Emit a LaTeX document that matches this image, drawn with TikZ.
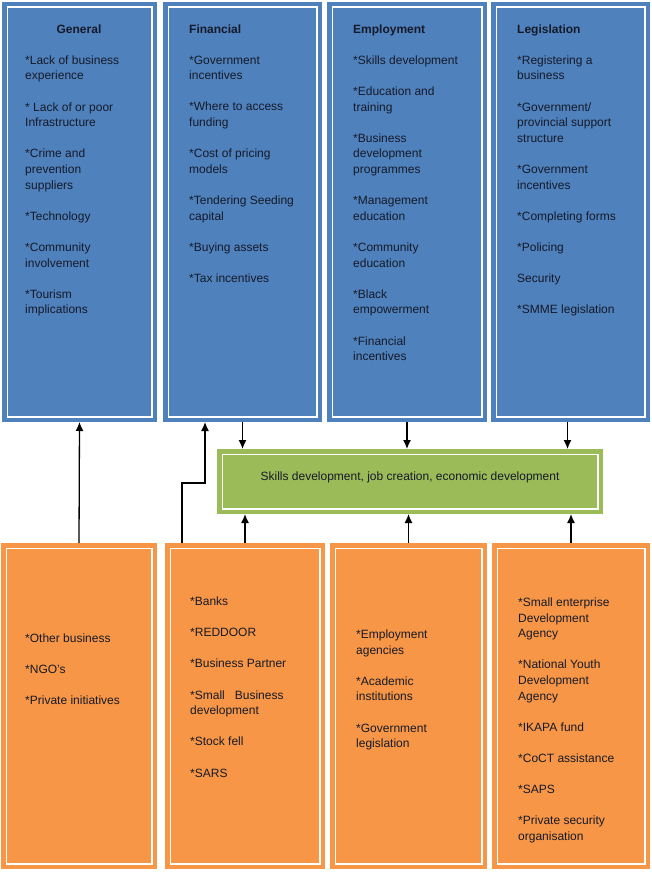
\documentclass[tikz,border=0pt]{standalone}
\usepackage{fontspec}
\setmainfont{Liberation Sans}
\usepackage{tikz}
\usetikzlibrary{positioning,arrows.meta}
\definecolor{bfill}{RGB}{79,129,189}
\definecolor{ofill}{RGB}{247,150,70}
\definecolor{gfill}{RGB}{155,187,89}
\definecolor{txtc}{RGB}{22,26,40}

\begin{document}
\begin{tikzpicture}[x=1pt,y=-1pt,
  panel/.style={draw=#1,fill=#1,double=white,double distance=1.8pt,line width=4.5pt,outer sep=5.4pt,inner sep=0pt},
  bluebox/.style={panel=bfill,minimum height=409.2pt},
  orangebox/.style={panel=ofill,minimum height=315.2pt},
  greenbox/.style={panel=gfill,minimum height=54.2pt,font=\fontsize{12}{15.6}\selectfont,text=txtc},
  head/.style={anchor=north,inner sep=0pt,font=\bfseries\fontsize{12}{15.6}\selectfont,text=txtc},
  items/.style={anchor=north west,inner sep=0pt,align=left,font=\fontsize{12}{15.6}\selectfont,text=txtc},
  link/.style={->,line width=1.3pt},
  >={Latex[length=9pt,width=8pt]}]
\useasboundingbox (0,0) rectangle (652,880);
\node[bluebox,minimum width=144.2pt] (b1) at (79.5,212) {};
\node[bluebox,minimum width=148.2pt] (b2) at (242.5,212) {};
\node[bluebox,minimum width=149.2pt] (b3) at (407,212) {};
\node[bluebox,minimum width=148.2pt] (b4) at (570.5,212) {};
\node[greenbox,minimum width=375.2pt] (gr) at (410,481.5) {\raisebox{1.5pt}[0pt][0pt]{Skills development, job creation, economic development}};
\node[orangebox,minimum width=145.2pt] (o1) at (79,706) {};
\node[orangebox,minimum width=149.2pt] (o2) at (245,706) {};
\node[orangebox,minimum width=146.2pt] (o3) at (408.5,706) {};
\node[orangebox,minimum width=147.2pt] (o4) at (571,706) {};

\node[head] (b1h) at (79,24.5) {General};
\node[head,anchor=north west] (b2h) at (189,24.5) {Financial};
\node[head,anchor=north west] (b3h) at (353,24.5) {Employment};
\node[head,anchor=north west] (b4h) at (517,24.5) {Legislation};

\node[items] (b1t) at (25,55.5) {*Lack of business\\experience\\[15.6pt]
  * Lack of or poor\\Infrastructure\\[15.6pt]
  *Crime and\\prevention\\suppliers\\[15.6pt]
  *Technology\\[15.6pt]
  *Community\\involvement\\[15.6pt]
  *Tourism\\implications};
\node[items] (b2t) at (189,55.5) {*Government\\incentives\\[15.6pt]
  *Where to access\\funding\\[15.6pt]
  *Cost of pricing\\models\\[15.6pt]
  *Tendering Seeding\\capital\\[15.6pt]
  *Buying assets\\[15.6pt]
  *Tax incentives};
\node[items] (b3t) at (353,55.5) {*Skills development\\[15.6pt]
  *Education and\\training\\[15.6pt]
  *Business\\development\\programmes\\[15.6pt]
  *Management\\education\\[15.6pt]
  *Community\\education\\[15.6pt]
  *Black\\empowerment\\[15.6pt]
  *Financial\\incentives};
\node[items] (b4t) at (517,55.5) {*Registering a\\business\\[15.6pt]
  *Government/\\provincial support\\structure\\[15.6pt]
  *Government\\incentives\\[15.6pt]
  *Completing forms\\[15.6pt]
  *Policing\\[15.6pt]
  Security\\[15.6pt]
  *SMME legislation};

\node[items] (o1t) at (25,633.5) {*Other business\\[15.6pt]
  *NGO's\\[15.6pt]
  *Private initiatives};
\node[items] (o2t) at (190,596.5) {*Banks\\[15.6pt]
  *REDDOOR\\[15.6pt]
  *Business Partner\\[15.6pt]
  *Small\ \ \ Business\\development\\[15.6pt]
  *Stock fell\\[15.6pt]
  *SARS};
\node[items] (o3t) at (356,629.5) {*Employment\\agencies\\[15.6pt]
  *Academic\\institutions\\[15.6pt]
  *Government\\legislation};
\node[items] (o4t) at (518,597.5) {*Small enterprise\\Development\\Agency\\[15.6pt]
  *National Youth\\Development\\Agency\\[15.6pt]
  *IKAPA fund\\[15.6pt]
  *CoCT assistance\\[15.6pt]
  *SAPS\\[15.6pt]
  *Private security\\organisation};

\coordinate (elb) at (182,483);
\draw[link] (o1.north) -- (b1.south);
\draw[link] (o2.north -| elb) -- (elb) -| ([xshift=42pt]b2.south west);
\draw[link] (b2.south) -- (b2.south |- gr.north);
\draw[link] (b3.south) -- (b3.south |- gr.north);
\draw[link] ([xshift=-3pt]b4.south) -- ([xshift=-3pt]b4.south |- gr.north);
\draw[link] (o2.north) -- (o2.north |- gr.south);
\draw[link] (o3.north) -- (o3.north |- gr.south);
\draw[link] (o4.north) -- (o4.north |- gr.south);
\end{tikzpicture}
\end{document}
